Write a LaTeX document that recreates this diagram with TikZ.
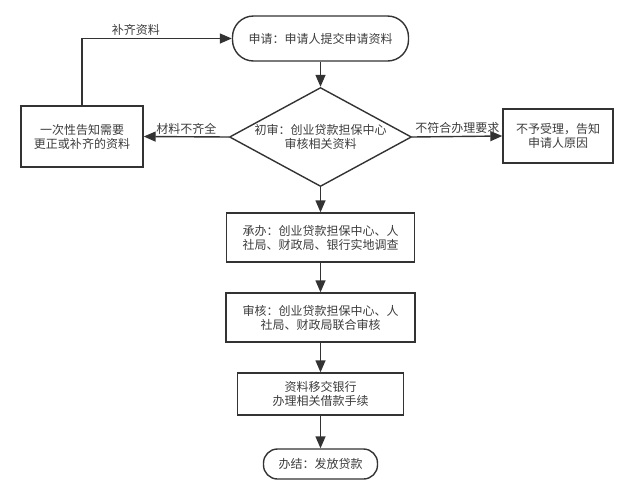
\documentclass[tikz,border=0pt]{standalone}
\usepackage{fontspec}
\newfontfamily\cjk{Noto Sans CJK SC}
\usetikzlibrary{shapes.geometric}
\usetikzlibrary{arrows.meta}
\definecolor{linegray}{RGB}{51,51,51}
\definecolor{textgray}{RGB}{60,60,60}

\begin{document}
\begin{tikzpicture}[x=1pt,y=-1pt]
			\tikzset{stepbox/.style = {shape=rectangle,draw=linegray,line width=1.4pt,
					align=center,text=textgray,inner sep=0pt,
					font=\cjk\fontsize{12}{14}\selectfont}}
			\tikzset{terminal/.style = {stepbox,rounded corners=14pt}}
			\tikzset{decision/.style = {shape=diamond,draw=linegray,line width=1.4pt,
					align=center,text=textgray,inner sep=0pt,aspect=1.84,
					font=\cjk\fontsize{12}{14}\selectfont}}
			\tikzset{edge/.style = {-{Triangle[length=12pt,width=10pt]},draw=linegray,
					line width=1.4pt}}
			\tikzset{edgelabel/.style = {text=textgray,inner sep=2pt,
					font=\cjk\fontsize{12}{14}\selectfont}}

		\useasboundingbox (0,0) rectangle (632,488);

		% vertices
		\node[terminal, minimum width=176pt, minimum height=45pt, rounded corners=21pt]
			(apply) at (320.5,38.5) {申请：申请人提交申请资料};
		\node[decision, minimum width=182pt, minimum height=99pt]
			(review) at (320.5,137) {初审：创业贷款担保中心\\审核相关资料};
		\node[stepbox, minimum width=122pt, minimum height=61pt]
			(notify) at (82,136.5) {一次性告知需要\\更正或补齐的资料};
		\node[stepbox, minimum width=110pt, minimum height=54pt]
			(reject) at (558,136) {不予受理，告知\\申请人原因};
		\node[stepbox, minimum width=188pt, minimum height=49pt]
			(survey) at (320.5,237.5) {承办：创业贷款担保中心、人\\社局、财政局、银行实地调查};
		\node[stepbox, minimum width=189pt, minimum height=49pt]
			(audit) at (320.5,317.5) {审核：创业贷款担保中心、人\\社局、财政局联合审核};
		\node[stepbox, minimum width=166pt, minimum height=42pt]
			(bank) at (320.5,394) {资料移交银行\\办理相关借款手续};
		\node[terminal, minimum width=114pt, minimum height=30pt]
			(done) at (320.5,464) {办结：发放贷款};

		%edges
		\draw[edge] (apply) -- (review);
		\draw[edge] (review) -- (survey);
		\draw[edge] (survey) -- (audit);
		\draw[edge] (audit) -- (bank);
		\draw[edge] (bank) -- (done);
		\draw[edge] (review.west) -- node[edgelabel, above] {材料不齐全} (notify.east);
		\draw[edge] (review.east) -- node[edgelabel, above] {不符合办理要求} (reject.west);
		\draw[edge] (notify.north) |- node[edgelabel, above, pos=0.68] {补齐资料} (apply.west);

\end{tikzpicture}
\end{document}
